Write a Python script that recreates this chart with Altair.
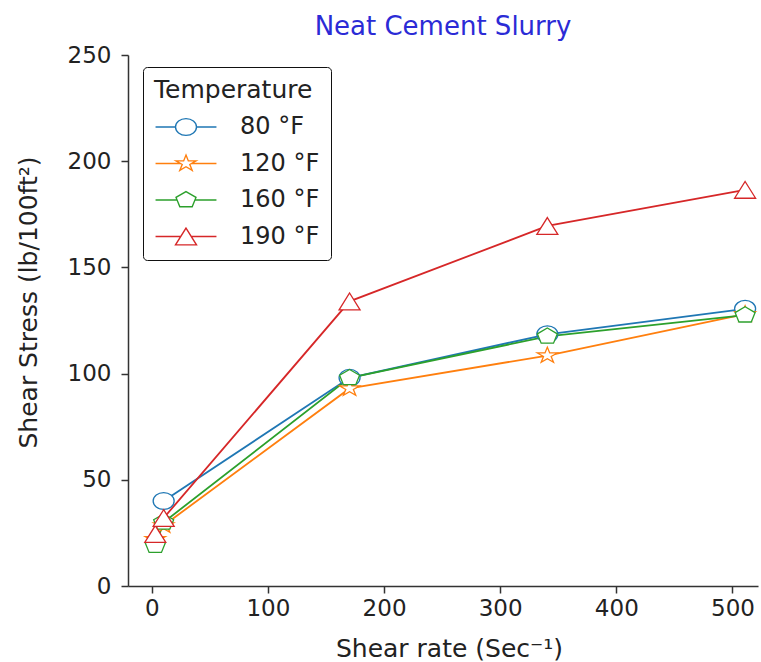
import altair as alt
import pandas as pd

# ---- data ----
series = ["80 °F", "120 °F", "160 °F", "190 °F"]
colors = ["#1f77b4", "#ff7f0e", "#2ca02c", "#d62728"]

rate_80 = [10.2, 170.3, 340.6, 510.9]
stress_80 = [40, 98, 118.5, 130.5]

rate_120 = [3.0, 10.2, 170.3, 340.6, 510.9]
stress_120 = [22, 28.5, 93, 108.5, 128]

rate_160 = [3.0, 10.2, 170.3, 340.6, 510.9]
stress_160 = [19, 30, 98, 117.5, 127.5]

rate_190 = [3.0, 10.2, 170.3, 340.6, 510.9]
stress_190 = [24.5, 32, 134, 169.5, 186.5]

y_ticks = [0, 50, 100, 150, 200, 250]
x_ticks = [0, 100, 200, 300, 400, 500]

rows = []
for name, xs, ys in [
    (series[0], rate_80, stress_80),
    (series[1], rate_120, stress_120),
    (series[2], rate_160, stress_160),
    (series[3], rate_190, stress_190),
]:
    for xv, yv in zip(xs, ys):
        rows.append({"series": name, "rate": xv, "stress": yv})
df = pd.DataFrame(rows)

# marker shapes (slightly wider than tall, as in the reference)
circle_p = "M1,0A1,0.8 0 1,1 -1,0A1,0.8 0 1,1 1,0Z"
star_p = ("M0,-0.8L0.2245,-0.247L0.951,-0.247L0.363,0.094L0.588,0.647L0,0.306"
          "L-0.588,0.647L-0.363,0.094L-0.951,-0.247L-0.2245,-0.247Z")
pent_p = "M0,-0.8L0.951,-0.247L0.588,0.647L-0.588,0.647L-0.951,-0.247Z"
tri_p = "M0,-0.8L1,0.8L-1,0.8Z"
marker_shapes = [circle_p, star_p, pent_p, tri_p]

# legend glyphs: line segment + marker
legend_shapes = [
    "M-2.9,0H-1M1,0H2.9" + circle_p,
    "M-2.9,0H-0.52M0.52,0H2.9" + star_p,
    "M-2.9,0H-0.85M0.85,0H2.9" + pent_p,
    "M-2.9,0H-0.5M0.5,0H2.9" + tri_p,
]

FONT = "DejaVu Sans"

x_enc = alt.X(
    "rate:Q",
    scale=alt.Scale(domain=[-20.5, 522], nice=False, zero=False),
    axis=alt.Axis(
        values=x_ticks, grid=False, tickSize=7, tickWidth=1.5, tickColor="#333",
        domainColor="#333", domainWidth=1.5, labelFontSize=23, labelColor="#222",
        labelPadding=4, labelFont=FONT,
        title="Shear rate (Sec⁻¹)", titleFontSize=25, titleFontWeight="normal",
        titleColor="#222", titleFont=FONT, titleX=321, titleY=62,
        titleAlign="center", titleBaseline="middle",
    ),
)
y_enc = alt.Y(
    "stress:Q",
    scale=alt.Scale(domain=[0, 250], nice=False),
    axis=alt.Axis(
        values=y_ticks, grid=False, tickSize=7, tickWidth=1.5, tickColor="#333",
        domainColor="#333", domainWidth=1.5, labelFontSize=23, labelColor="#222",
        labelPadding=10, labelFont=FONT,
        title="Shear Stress (lb/100ft²)", titleFontSize=25, titleFontWeight="normal",
        titleColor="#222", titleFont=FONT, titleX=-100, titleY=247, titleAngle=270,
        titleAlign="center", titleBaseline="middle",
    ),
)

stroke_scale = alt.Scale(domain=series, range=colors)

lines = alt.Chart(df).mark_line(strokeWidth=1.8).encode(
    x=x_enc, y=y_enc,
    stroke=alt.Stroke("series:N", scale=stroke_scale, legend=None, sort=series),
    detail="series:N",
    order="rate:Q",
)

points = alt.Chart(df).mark_point(
    filled=False, fill="white", fillOpacity=1, opacity=1, strokeWidth=1.3, size=441
).encode(
    x=x_enc, y=y_enc,
    stroke=alt.Stroke("series:N", scale=stroke_scale, legend=None, sort=series),
    shape=alt.Shape("series:N", scale=alt.Scale(domain=series, range=marker_shapes),
                    legend=None, sort=series),
)

leg = alt.Legend(
    title="Temperature", orient="none", legendX=15, legendY=12,
    fillColor="white", strokeColor="#111", cornerRadius=4, padding=11,
    titleFontSize=25, titleFontWeight="normal", titleColor="#222", titleFont=FONT,
    titlePadding=12, labelFontSize=24, labelColor="#222", labelFont=FONT,
    rowPadding=12.5, symbolSize=441, symbolStrokeWidth=1.4, symbolOffset=20,
    labelOffset=42, symbolFillColor="white",
)

legend_layer = alt.Chart(df).transform_filter("false").mark_point(
    filled=False, fill="white", fillOpacity=1, strokeWidth=1.4, size=441
).encode(
    x=x_enc, y=y_enc,
    stroke=alt.Stroke("series:N", scale=alt.Scale(domain=series, range=colors),
                      legend=leg, sort=series),
    shape=alt.Shape("series:N", scale=alt.Scale(domain=series, range=legend_shapes),
                    legend=leg, sort=series),
)

chart = alt.layer(lines, points, legend_layer).resolve_scale(
    stroke="independent", shape="independent"
).properties(
    width=630, height=531,
    padding={"left": 128, "top": 55, "right": 3, "bottom": 76},
    autosize=alt.AutoSizeParams(type="none"),
    title=alt.TitleParams(
        text="Neat Cement Slurry", fontSize=26, font=FONT, fontWeight="normal",
        color="#2b2bd6", anchor="middle", offset=4,
    ),
).configure(font=FONT, background="white").configure_view(strokeWidth=0)

chart.save("out.html", embed_options={"renderer": "svg", "actions": False})
